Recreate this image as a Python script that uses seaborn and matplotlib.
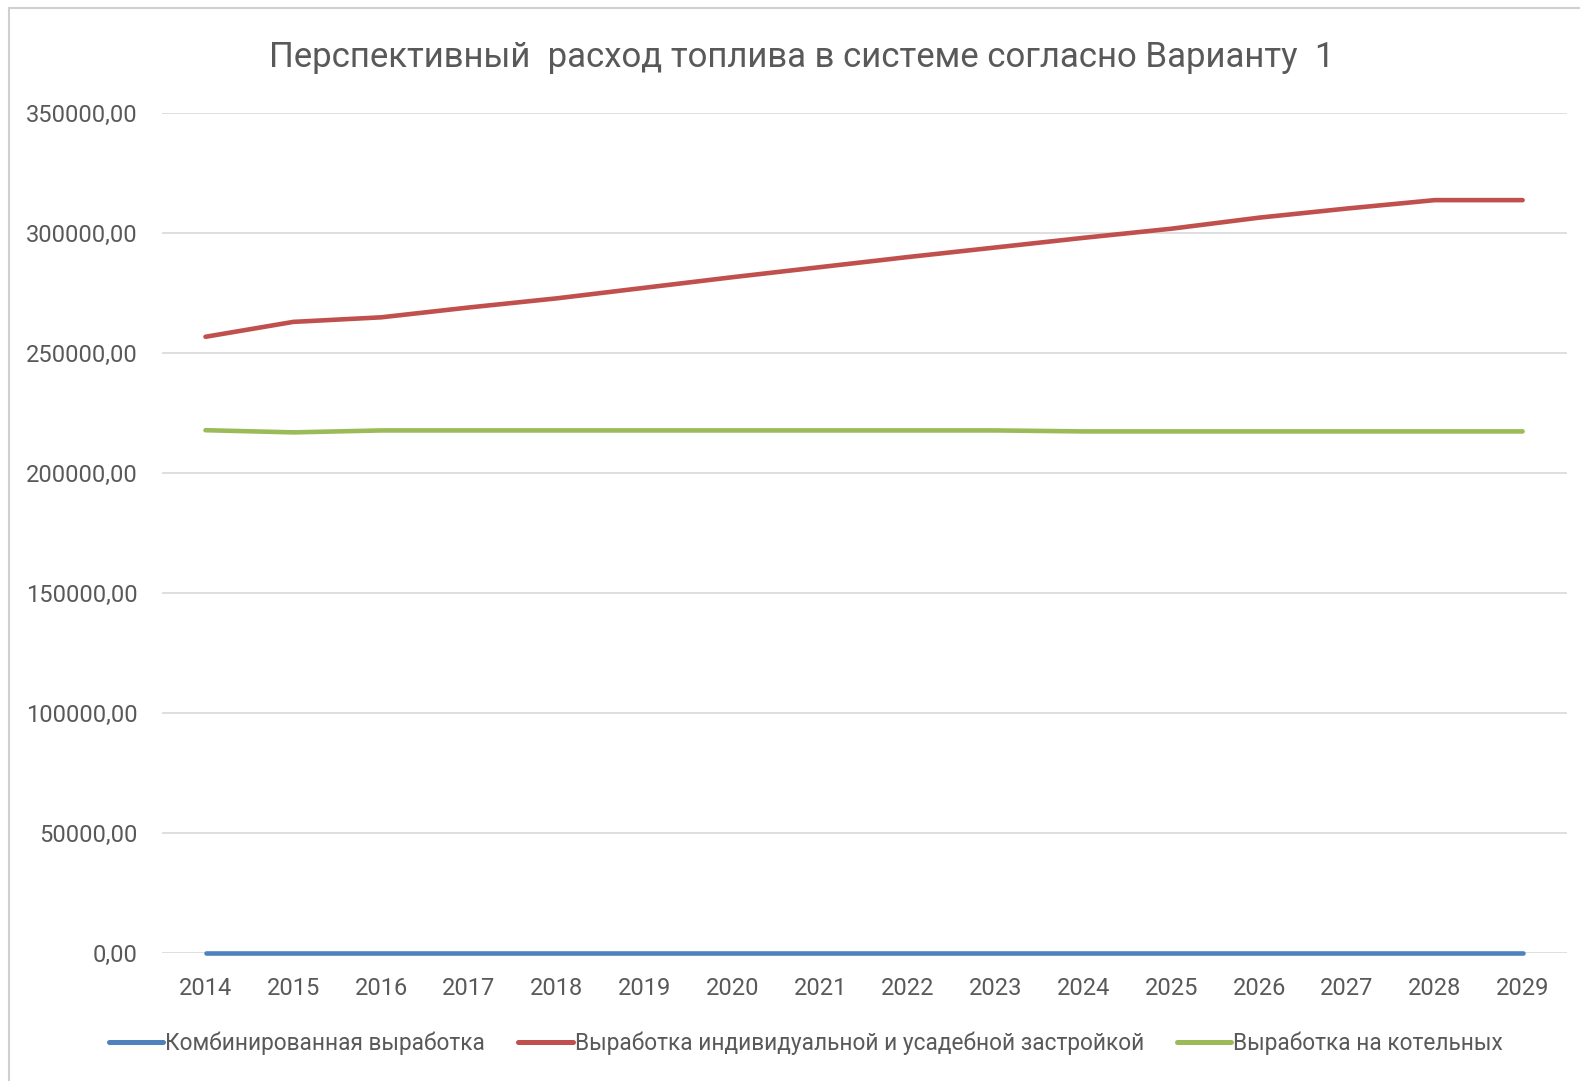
import matplotlib
matplotlib.use("Agg")
import matplotlib.pyplot as plt
import seaborn as sns
import pandas as pd
from matplotlib.patches import Rectangle
from matplotlib.ticker import FuncFormatter, MultipleLocator

years = list(range(2014, 2030))
series_names = [
    "Комбинированная выработка",
    "Выработка индивидуальной и усадебной застройкой",
    "Выработка на котельных",
]
combined = [0.0] * 16
individual = [256700, 262900, 264800, 268900, 272700, 277100, 281500, 285700,
              289900, 293900, 297900, 301700, 306300, 310100, 313600, 313600]
boilers = [217800, 216900, 217700, 217700, 217700, 217700, 217700, 217700,
           217700, 217700, 217300, 217300, 217300, 217300, 217300, 217300]
title = "Перспективный  расход топлива в системе согласно Варианту  1"

colors = ["#4F81BD", "#C0504D", "#9BBB59"]

df = pd.DataFrame({
    "year": [str(y) for y in years] * 3,
    "value": combined + individual + boilers,
    "series": sum([[n] * len(years) for n in series_names], []),
})

sns.set_theme(style="white")
plt.rcParams["font.family"] = ["Roboto", "DejaVu Sans"]
text_col = "#595959"

fig = plt.figure(figsize=(15.8, 10.81), dpi=100)
ax = fig.add_axes([161.6 / 1580, 1 - 953.3 / 1081, (1566.5 - 161.6) / 1580, (953.3 - 112.7) / 1081])

sns.lineplot(data=df, x="year", y="value", hue="series", hue_order=series_names,
             palette=colors, linewidth=3.3, sort=False, ax=ax, legend=True)
for ln in ax.get_lines():
    ln.set_clip_on(False)
    ln.set_solid_capstyle("round")

ax.set_xlim(-0.5, len(years) - 0.5)
ax.set_ylim(0, 350000)
ax.yaxis.set_major_locator(MultipleLocator(50000))
ax.yaxis.set_major_formatter(FuncFormatter(lambda v, p: f"{v:.2f}".replace(".", ",")))
ax.grid(axis="y", color="#D9D9D9", linewidth=1.2)
ax.grid(axis="x", visible=False)
ax.set_axisbelow(True)
for s in ax.spines.values():
    s.set_visible(False)
ax.tick_params(axis="both", length=0, colors=text_col, labelsize=17)
ax.tick_params(axis="y", pad=17)
ax.tick_params(axis="x", pad=17)
ax.set_xlabel("")
ax.set_ylabel("")

handles, labels = ax.get_legend_handles_labels()
for h in handles:
    h.set_linewidth(3.6)
leg = ax.legend(handles, labels, loc="center",
                bbox_to_anchor=(0.5 + (806 - 864) / 1405, 1 - (1043 - 112.7) / 840.6),
                ncol=3, frameon=False, fontsize=16.3, handlelength=2.4, handletextpad=0.1,
                columnspacing=1.45, labelcolor=text_col)

fig.text(802 / 1580, 1 - 58 / 1081, title, ha="center", va="center",
         fontsize=25, color=text_col)

fig.patches.append(Rectangle((9 / 1580, -0.02), 1.1, 1 - 8 / 1081 + 0.02, transform=fig.transFigure,
                             fill=False, edgecolor="#D0D0D0", linewidth=1.5))

fig.savefig("out.png", dpi=100)
